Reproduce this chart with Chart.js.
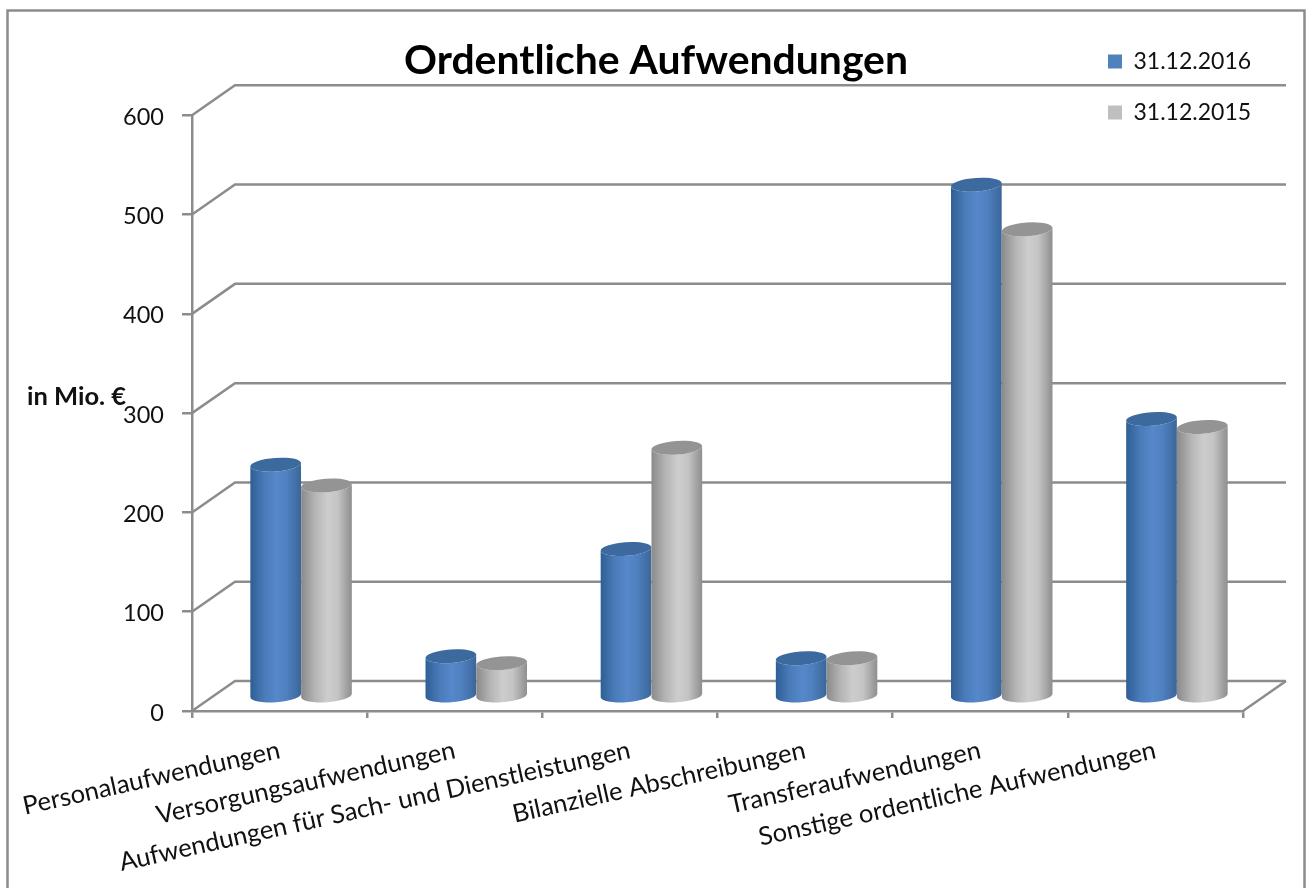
<!DOCTYPE html>
<html>
<head>
<meta charset="utf-8">
<style>
html,body{margin:0;padding:0;background:#fff;}
#wrap{position:absolute;left:0;top:0;width:1306px;height:888px;}
</style>
<script src="https://cdn.jsdelivr.net/npm/chart.js@4/dist/chart.umd.js"></script>
</head>
<body>
<div id="wrap"><canvas id="c" width="1306" height="888"></canvas></div>
<script>
const titleText = "Ordentliche Aufwendungen";
const unitLabel = "in Mio. €";
const categories = ["Personalaufwendungen","Versorgungsaufwendungen","Aufwendungen für Sach- und Dienstleistungen","Bilanzielle Abschreibungen","Transferaufwendungen","Sonstige ordentliche Aufwendungen"];
const values2016 = [233,40,148,38,515,279];
const values2015 = [212,33,250,38,470,271];
const seriesNames = ["31.12.2016","31.12.2015"];
const yTicks = [0,100,200,300,400,500,600];

const GRID = "#8c8c8c";
const DEPTH_X = 43, DEPTH_Y = 30;
const looks = [
  {stops:["#2f5e95","#4a7cba","#5688ca","#4f80bf","#3a6699"],cap:"#3c6a9e"},
  {stops:["#8a8a8a","#b5b5b5","#cdcdcd","#c4c4c4","#8e8e8e"],cap:"#949494"}
];

function drawCylinders(chart,index){
  const c = chart.ctx, look = looks[index];
  chart.getDatasetMeta(index).data.forEach(el=>{
    const p = el.getProps(["x","y","base","width"],true);
    const cx = p.x + DEPTH_X/2, top = p.y - DEPTH_Y/2, bot = p.base - DEPTH_Y/2 + 0.7;
    const rx = p.width/2, ry = 6.8, tilt = -0.07;
    const g = c.createLinearGradient(cx-rx,0,cx+rx,0);
    look.stops.forEach((s,i)=>g.addColorStop([0,.28,.52,.72,1][i],s));
    c.save();
    c.beginPath();
    c.ellipse(cx,top,rx,ry,tilt,Math.PI,0,true);
    c.ellipse(cx,bot,rx,ry,tilt,0,Math.PI,false);
    c.closePath();
    c.fillStyle = g; c.fill();
    c.beginPath();
    c.ellipse(cx,top,rx,ry,tilt,0,Math.PI*2);
    c.fillStyle = look.cap; c.fill();
    c.restore();
  });
}

const frame3d = {
  id:"frame3d",
  afterLayout(chart){
    const t = chart.titleBlock;
    t.left = 404; t.right = 908; t.top = 34; t.bottom = 88;
    const l = chart.legend;
    l.left = 1080; l.right = 1300; l.top = 22; l.bottom = 300;
  },
  beforeDraw(chart){
    const c = chart.ctx;
    c.save();
    c.strokeStyle = GRID; c.lineWidth = 2.5;
    c.beginPath();
    c.moveTo(7.5,888); c.lineTo(7.5,10.5); c.lineTo(1304.5,10.5); c.lineTo(1304.5,888);
    c.stroke();
    c.restore();
  },
  beforeDatasetsDraw(chart){
    const c = chart.ctx, y = chart.scales.y, a = chart.chartArea;
    c.save();
    c.strokeStyle = GRID; c.lineWidth = 2.5;
    yTicks.forEach(v=>{
      const py = y.getPixelForValue(v);
      c.beginPath();
      c.moveTo(a.left,py);
      c.lineTo(a.left+DEPTH_X,py-DEPTH_Y);
      c.lineTo(a.right+DEPTH_X,py-DEPTH_Y);
      c.stroke();
    });
    const by = y.getPixelForValue(0);
    c.beginPath();
    c.moveTo(a.right,by);
    c.lineTo(a.right+DEPTH_X,by-DEPTH_Y);
    c.stroke();
    c.restore();
    c.save();
    c.font = "bold 25.5px Lato";
    c.fillStyle = "#111";
    c.textAlign = "left"; c.textBaseline = "middle";
    c.fillText(unitLabel,27,397);
    c.restore();
    drawCylinders(chart,0);
    drawCylinders(chart,1);
  },
  beforeDatasetDraw(){ return false; }
};

new Chart(document.getElementById("c"),{
  type:"bar",
  data:{
    labels:categories,
    datasets:[
      {label:seriesNames[0],data:values2016,backgroundColor:"#4f81bd",categoryPercentage:0.58,barPercentage:1},
      {label:seriesNames[1],data:values2015,backgroundColor:"#bfbfbf",categoryPercentage:0.58,barPercentage:1}
    ]
  },
  options:{
    responsive:false,animation:false,
    layout:{padding:{left:0,right:63,top:62,bottom:0}},
    plugins:{
      tooltip:{enabled:false},
      title:{display:true,text:titleText,color:"#000",font:{family:"Lato",size:41,weight:"bold",lineHeight:1.3},padding:{top:0,bottom:0},align:"center"},
      legend:{
        position:"chartArea",align:"start",
        labels:{boxWidth:14,boxHeight:14,padding:28,color:"#111",font:{family:"Lato",size:23}}
      }
    },
    scales:{
      x:{
        offset:true,
        afterFit(s){s.height=177;s.paddingLeft=0;s.paddingRight=0;},
        border:{color:GRID,width:2.5},
        grid:{drawOnChartArea:false,drawTicks:true,tickLength:7,color:GRID,lineWidth:2.5,offset:true},
        ticks:{autoSkip:false,minRotation:12.5,maxRotation:12.5,padding:17,color:"#111",font:{family:"Lato",size:25.5}}
      },
      y:{
        min:0,max:600,
        afterBuildTicks(s){s.ticks=yTicks.map(v=>({value:v}));},
        afterFit(s){s.width=192;},
        border:{color:GRID,width:2.5},
        grid:{drawOnChartArea:false,drawTicks:true,tickLength:10,color:GRID,lineWidth:2.5},
        ticks:{padding:18,labelOffset:2,color:"#111",font:{family:"Lato",size:23.5}}
      }
    }
  },
  plugins:[frame3d]
});
</script>
</body>
</html>
